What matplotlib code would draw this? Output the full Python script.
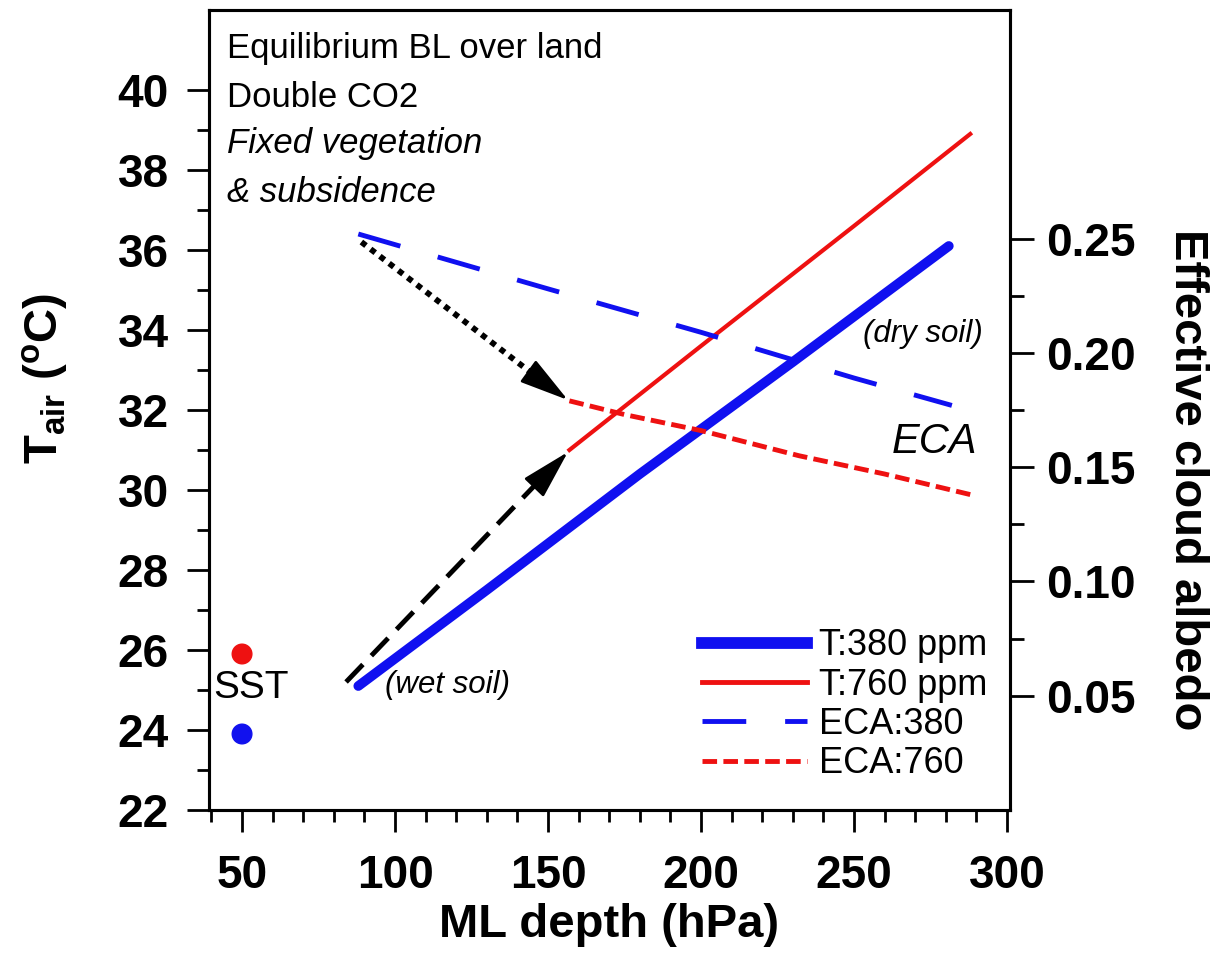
import matplotlib
matplotlib.use("Agg")
import matplotlib.pyplot as plt
from matplotlib.lines import Line2D

plt.rcParams['font.family'] = ['Liberation Sans', 'DejaVu Sans']

# --- data ---
sst_x = [50, 50]
sst_t = [25.9, 23.9]
sst_colors = ['#ee1111', '#1111ee']

ml_t380 = [88, 130, 180, 230, 281]
t380 = [25.1, 27.5, 30.4, 33.2, 36.1]

ml_t760 = [157, 200, 250, 288]
t760 = [31.0, 33.6, 36.6, 38.9]

ml_eca380 = [88, 150, 200, 250, 282]
eca380 = [0.252, 0.228, 0.209, 0.189, 0.177]

ml_eca760 = [157, 175, 200, 232, 260, 288]
eca760 = [0.179, 0.173, 0.166, 0.155, 0.147, 0.138]

xticks = [50, 100, 150, 200, 250, 300]
yticks = [22, 24, 26, 28, 30, 32, 34, 36, 38, 40]
y2ticks = [0.05, 0.10, 0.15, 0.20, 0.25]
y2labels = ['0.05', '0.10', '0.15', '0.20', '0.25']

blue = '#1010f0'
red = '#ee1111'

fig = plt.figure(figsize=(12.19, 9.56), dpi=100)
ax = fig.add_axes([209 / 1219, 1 - 810 / 956, 801 / 1219, 800 / 956])
ax.set_xlim(39.2, 301)
ax.set_ylim(22, 42)

# temperature lines
ax.plot(ml_t380, t380, color=blue, lw=7, solid_capstyle='round', zorder=3)
ax.plot(ml_t760, t760, color=red, lw=3, zorder=3)
ax.scatter(sst_x, sst_t, s=200, c=sst_colors, zorder=4)

# arrows (dashed: wet->shifted, dotted: ECA shift)
head = dict(arrowstyle='-|>,head_length=1.4,head_width=0.38', color='k', lw=2,
            shrinkA=0, shrinkB=0, mutation_scale=22)
ax.plot([84, 153], [25.2, 30.7], color='k', lw=3.5, dashes=(5, 2.5), zorder=5)
ax.annotate('', xy=(156.5, 30.95), xytext=(152.5, 30.63), arrowprops=head, zorder=6)
ax.plot([89, 152], [36.2, 32.49], color='k', lw=4.2, dashes=(1, 1), zorder=5)
ax.annotate('', xy=(156.5, 32.25), xytext=(152, 32.5), arrowprops=head, zorder=6)

# text annotations
ax.text(45.1, 40.8, 'Equilibrium BL over land', fontsize=25, va='baseline')
ax.text(45.1, 39.575, 'Double CO2', fontsize=25, va='baseline')
ax.text(45.1, 38.425, 'Fixed vegetation', fontsize=25, style='italic', va='baseline')
ax.text(45.1, 37.2, '& subsidence', fontsize=25, style='italic', va='baseline')
ax.text(96.7, 25.12, '(wet soil)', fontsize=22.5, style='italic', va='center')
ax.text(292.2, 33.9, '(dry soil)', fontsize=22.5, style='italic', va='center', ha='right')
ax.text(290.2, 31.2, 'ECA', fontsize=30, style='italic', va='center', ha='right')
ax.text(52.9, 25.05, 'SST', fontsize=28, va='center', ha='center')

# ECA on twin axis
ax2 = ax.twinx()
ax2.set_ylim(0, 0.35)
ax2.plot(ml_eca380, eca380, color=blue, lw=3.5, dashes=(9, 8))
ax2.plot(ml_eca760, eca760, color=red, lw=3.5, dashes=(3, 1.3))

# ticks
ax.set_xticks(xticks, [str(v) for v in xticks], fontweight='bold')
ax.set_xticks(range(40, 300, 10), minor=True)
ax.set_yticks(yticks, [str(v) for v in yticks], fontweight='bold')
ax.set_yticks(range(23, 40, 2), minor=True)
ax2.set_yticks(y2ticks, y2labels, fontweight='bold')
ax2.set_yticks([0.075, 0.125, 0.175, 0.225], minor=True)

ax.tick_params(axis='both', which='major', direction='out', length=16, width=2,
               labelsize=33)
ax.tick_params(axis='both', which='minor', direction='out', length=8.5, width=2)
ax.tick_params(axis='x', which='major', pad=16)
ax.tick_params(axis='y', which='major', pad=13)
ax2.tick_params(axis='y', which='major', direction='out', length=17, width=2,
                labelsize=33, pad=9)
ax2.tick_params(axis='y', which='minor', direction='out', length=10, width=2)

for a in (ax, ax2):
    for sp in a.spines.values():
        sp.set_linewidth(2.2)

# axis labels
fig.text(609 / 1219, 1 - 925 / 956, 'ML depth (hPa)', fontsize=34, fontweight='bold',
         ha='center', va='center')
fig.text(45 / 1219, 1 - 378 / 956, r'T$_{\mathregular{air}}$ ($^{\mathregular{o}}$C)',
         fontsize=34, fontweight='bold', rotation=90, ha='center', va='center')
fig.text(1187 / 1219, 1 - 480 / 956, 'Effective cloud albedo', fontsize=34,
         fontweight='bold', rotation=270, ha='center', va='center')

# legend
handles = [
    Line2D([], [], color=blue, lw=8.5),
    Line2D([], [], color=red, lw=3.5),
    Line2D([], [], color=blue, lw=3.5, dashes=(9, 8)),
    Line2D([], [], color=red, lw=3.5, dashes=(3, 1.3)),
]
labels = ['T:380 ppm', 'T:760 ppm', 'ECA:380', 'ECA:760']
ax2.legend(handles, labels, loc='lower left', bbox_to_anchor=(0.6155, 0.036),
           frameon=False, fontsize=26, handlelength=2.9, handletextpad=0.33,
           labelspacing=0.12, borderpad=0, borderaxespad=0)

fig.savefig('out.png', dpi=100)
